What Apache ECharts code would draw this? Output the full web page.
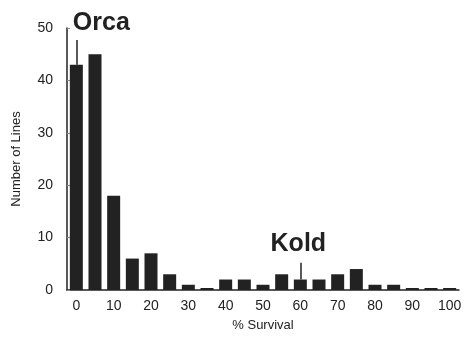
<!DOCTYPE html>
<html>
<head>
<meta charset="utf-8">
<script src="https://cdn.jsdelivr.net/npm/echarts@6/dist/echarts.min.js"></script>
<style>
  html, body { margin: 0; padding: 0; background: #fff; }
  #chart { width: 465px; height: 337px; }
</style>
</head>
<body>
<div id="chart"></div>
<script>
// % survival bins (every 5%)
var survivalBins = ["0", "5", "10", "15", "20", "25", "30", "35", "40", "45", "50",
  "55", "60", "65", "70", "75", "80", "85", "90", "95", "100"];
// number of lines in each bin
var lineCounts = [43, 45, 18, 6, 7, 3, 1, 0, 2, 2, 1, 3, 2, 2, 3, 4, 1, 1, 0, 0, 0];
// labelled lines: name, bin, bar top, pointer top
var callouts = [
  { name: "Orca", bin: "0", from: 43, to: 47.7, offset: [25, -17] },
  { name: "Kold", bin: "60", from: 2, to: 5.2, offset: [-2, -19] }
];

var ink = "#222";
var font = "'Liberation Sans', Arial, sans-serif";

var chart = echarts.init(document.getElementById("chart"));
chart.setOption({
  animation: false,
  grid: { left: 67, right: 6, top: 28, bottom: 47 },
  xAxis: {
    type: "category",
    data: survivalBins,
    name: "% Survival",
    nameLocation: "middle",
    nameGap: 29,
    nameTextStyle: { color: ink, fontSize: 13, fontFamily: font },
    axisLine: { lineStyle: { color: ink, width: 1.5 } },
    axisTick: { alignWithLabel: true, interval: 1, length: 4, lineStyle: { color: ink } },
    axisLabel: { interval: 1, color: ink, fontSize: 14, fontFamily: font, margin: 9 }
  },
  yAxis: {
    type: "value",
    min: 0,
    max: 50,
    interval: 10,
    name: "Number of Lines",
    nameLocation: "middle",
    nameGap: 44,
    nameTextStyle: { color: ink, fontSize: 13, fontFamily: font },
    axisLine: { show: true, lineStyle: { color: ink, width: 1.5 } },
    axisTick: { show: true, length: 3, inside: true, lineStyle: { color: "#888" } },
    axisLabel: { color: ink, fontSize: 14, fontFamily: font, margin: 14 },
    splitLine: { show: false }
  },
  series: [{
    type: "bar",
    data: lineCounts,
    barWidth: 13,
    barMinHeight: 2,
    itemStyle: { color: ink },
    markLine: {
      silent: true,
      symbol: "none",
      label: { show: false },
      lineStyle: { color: ink, width: 1.5, type: "solid" },
      data: callouts.map(function (c) {
        return [{ coord: [c.bin, c.from] }, { coord: [c.bin, c.to] }];
      })
    },
    markPoint: {
      silent: true,
      symbol: "circle",
      symbolSize: 0,
      data: callouts.map(function (c) {
        return {
          coord: [c.bin, c.to],
          label: {
            show: true,
            formatter: c.name,
            position: "inside",
            offset: c.offset,
            color: ink,
            fontSize: 25,
            fontWeight: "bold",
            fontFamily: font
          }
        };
      })
    }
  }]
});
</script>
</body>
</html>
